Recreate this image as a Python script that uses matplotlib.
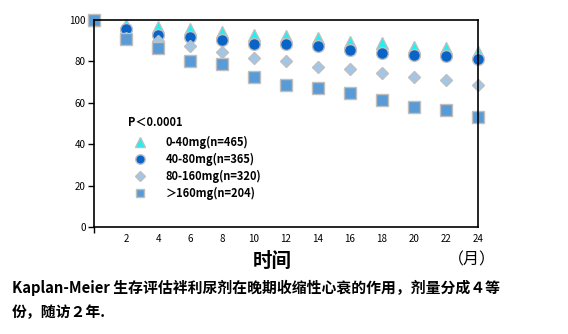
import matplotlib
matplotlib.use('Agg')
import matplotlib.pyplot as plt
import numpy as np

plt.rcParams['font.family'] = ['Noto Sans CJK SC', 'DejaVu Sans']

# 月份
months = [0, 2, 4, 6, 8, 10, 12, 14, 16, 18, 20, 22, 24]

# 各剂量组的生存率 (%)
surv_0_40 = [100, 97.6, 96.5, 95.8, 94.4, 92.8, 92.3, 91.5, 89.5, 89.0, 87.1, 86.3, 84.7]
surv_40_80 = [100, 95.5, 92.8, 91.6, 90.5, 88.6, 88.4, 87.3, 85.7, 84.2, 83.2, 82.5, 81.3]
surv_80_160 = [100, 91.5, 89.7, 87.3, 84.5, 81.5, 80.4, 77.1, 76.3, 74.4, 72.6, 70.9, 68.4]
surv_160 = [100, 90.7, 86.3, 80.0, 78.7, 72.6, 68.4, 67.0, 64.6, 61.5, 58.1, 56.4, 53.0]

labels = ['0-40mg(n=465)', '40-80mg(n=365)', '80-160mg(n=320)', '＞160mg(n=204)']
xtick_labels = [2, 4, 6, 8, 10, 12, 14, 16, 18, 20, 22, 24]
yticks = [0, 20, 40, 60, 80, 100]

fig = plt.figure(figsize=(5.68, 3.34), dpi=100)
ax = fig.add_axes([94/568, 1-227/334, 384/568, 207/334])

edge = '#bfbfbf'
ax.plot(months, surv_0_40, linestyle='none', marker='^', markersize=8.5, color='#22f0f0',
        markeredgecolor=edge, markeredgewidth=1, label=labels[0], clip_on=False)
ax.plot(months, surv_40_80, linestyle='none', marker='o', markersize=8.5, color='#0a64c8',
        markeredgecolor=edge, markeredgewidth=1, label=labels[1], clip_on=False)
ax.plot(months, surv_80_160, linestyle='none', marker='D', markersize=6.5, color='#a4c6e6',
        markeredgecolor=edge, markeredgewidth=1, label=labels[2], clip_on=False)
ax.plot(months, surv_160, linestyle='none', marker='s', markersize=8, color='#5b9bd5',
        markeredgecolor=edge, markeredgewidth=1, label=labels[3], clip_on=False)

ax.set_xlim(0, 24)
ax.set_ylim(0, 100)

# 刻度
ax.set_xticks(xtick_labels)
ax.set_xticklabels([str(v) for v in xtick_labels], fontsize=7)
ax.set_xticks([0, 4, 8, 12, 14, 24], minor=True)
ax.tick_params(axis='x', which='major', length=0, pad=5)
ax.tick_params(axis='x', which='minor', length=4, direction='out', width=1)
ax.set_yticks(yticks)
ax.set_yticklabels([str(v) for v in yticks], fontsize=7)
ax.tick_params(axis='y', length=4, direction='out', width=1, pad=2)

for s in ax.spines.values():
    s.set_linewidth(1.2)

# P值与图例
ax.text(0.088, 0.505, 'P＜0.0001', transform=ax.transAxes, fontsize=8,
        fontweight='bold', va='center', ha='left')
leg = ax.legend(loc='upper left', bbox_to_anchor=(0.105, 0.44), frameon=False,
                prop={'weight': 'bold', 'size': 8}, handlelength=1.0,
                handletextpad=1.8, labelspacing=0.35, borderpad=0, borderaxespad=0,
                markerscale=0.8)

fig.text(272/568, 1-261/334, '时间', fontsize=14, fontweight='bold', ha='center', va='center')
fig.text(472/568, 1-260/334, '（月）', fontsize=11.5, ha='center', va='center')

fig.text(12/568, 1-288/334, 'Kaplan-Meier 生存评估袢利尿剂在晚期收缩性心衰的作用，剂量分成４等',
         fontsize=10.7, fontweight='bold', ha='left', va='center')
fig.text(12/568, 1-312/334, '份，随访２年.', fontsize=10.7, fontweight='bold', ha='left', va='center')

fig.savefig('out.png', dpi=100)
